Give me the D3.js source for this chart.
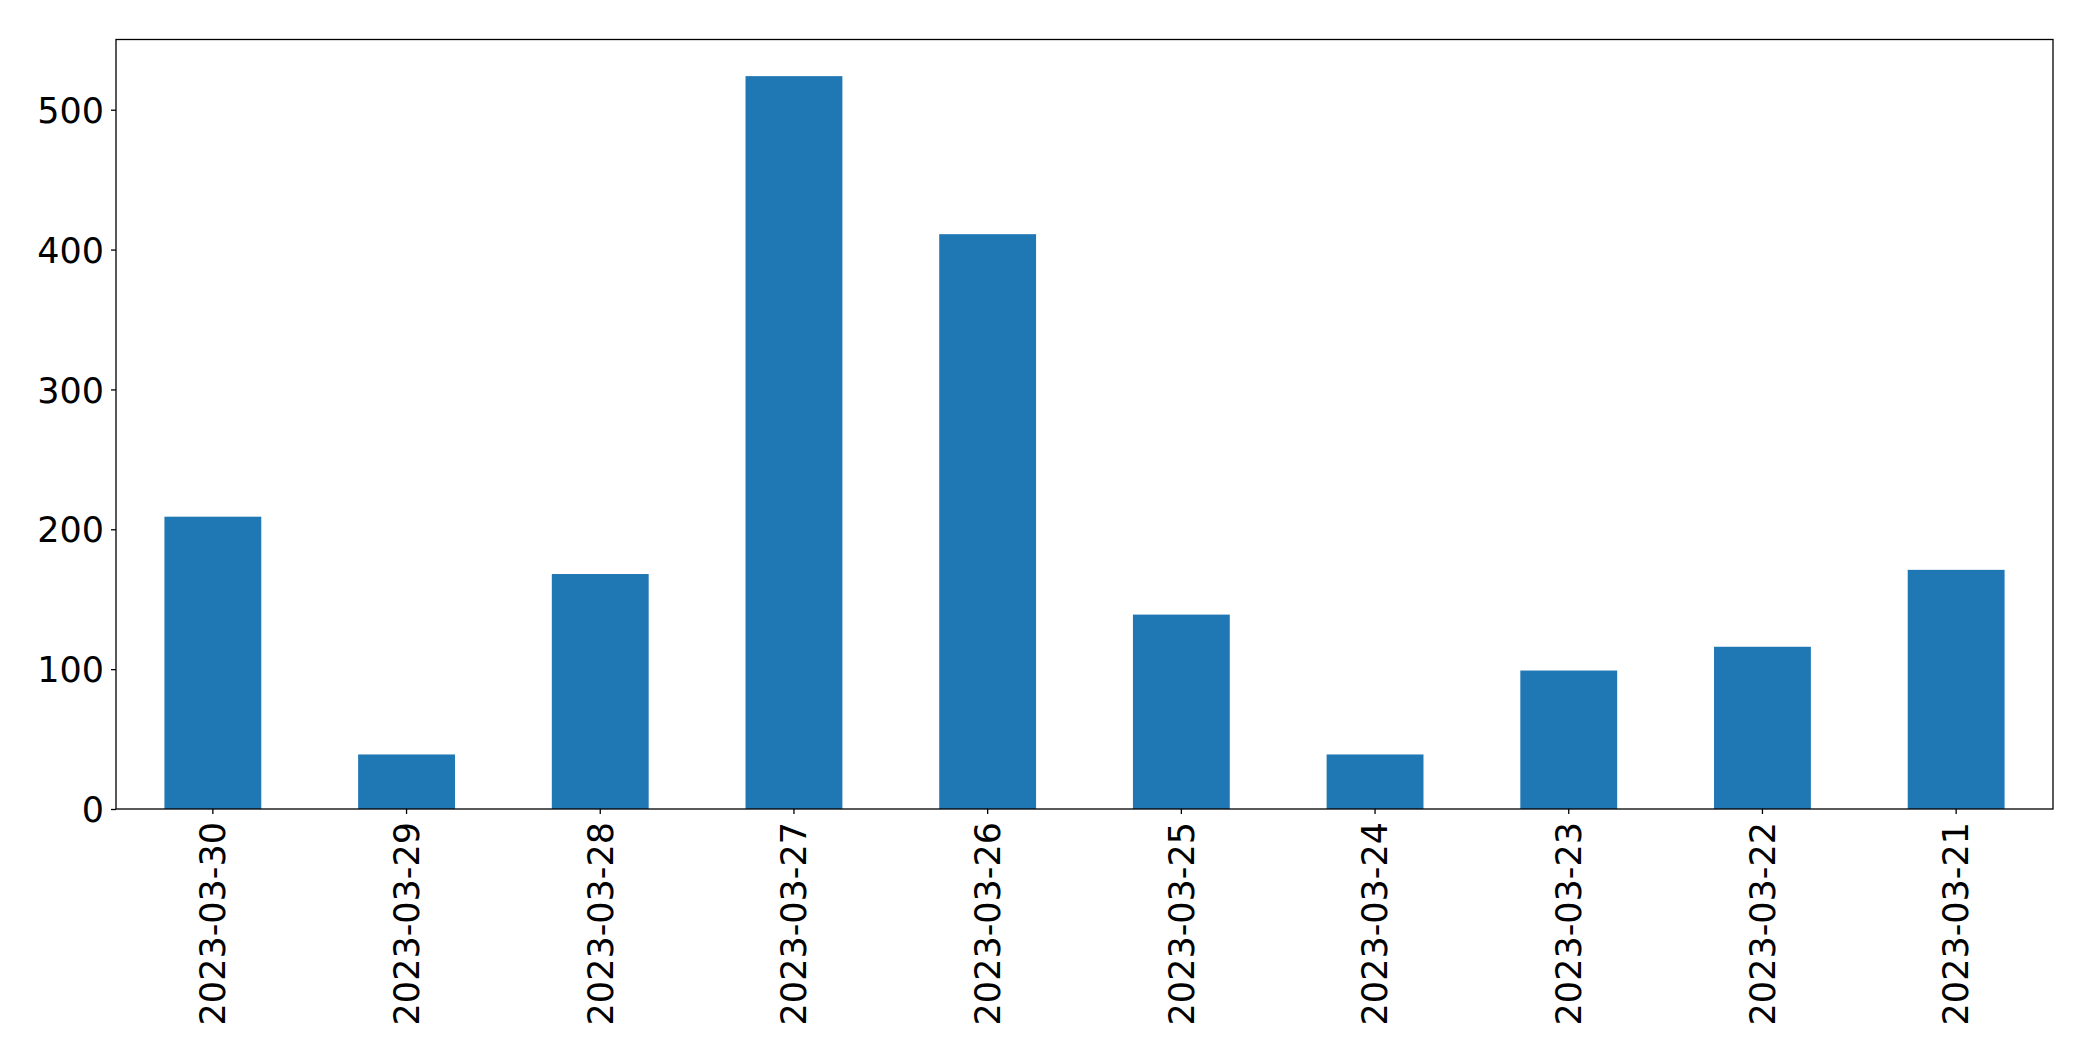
<!DOCTYPE html>
<html>
<head>
<meta charset="utf-8">
<script src="https://cdn.jsdelivr.net/npm/d3@7"></script>
<style>
 body { margin: 0; background: #fff; }
 .axis text { font-family: "DejaVu Sans", sans-serif; font-size: 35px; fill: #000; }
 .axis path, .axis line { stroke: #000; stroke-width: 1.3px; }
</style>
</head>
<body>
<div id="chart"></div>
<script>
// data
var dates = ["2023-03-30", "2023-03-29", "2023-03-28", "2023-03-27", "2023-03-26",
  "2023-03-25", "2023-03-24", "2023-03-23", "2023-03-22", "2023-03-21"];
var counts = [209, 39, 168, 524, 411, 139, 39, 99, 116, 171];
var yTicks = [0, 100, 200, 300, 400, 500];

// set the dimensions and margins of the graph
var W = 2093, H = 1061;
var margin = { top: 39.5, right: 40, bottom: 252, left: 116 },
  width = W - margin.left - margin.right,
  height = H - margin.top - margin.bottom;

var data = dates.map(function (d, i) { return { date: d, value: counts[i] }; });

// set the ranges
var x = d3.scaleBand().domain(dates).range([0, width])
  .paddingInner(0.5).paddingOuter(0.25);
var y = d3.scaleLinear()
  .domain([0, d3.max(counts) * 1.05])
  .range([height, 0]);

var svg = d3.select("#chart").append("svg")
  .attr("width", W)
  .attr("height", H)
  .append("g")
  .attr("transform", "translate(" + margin.left + "," + margin.top + ")");

// bars
svg.selectAll(".bar")
  .data(data)
  .enter().append("rect")
  .attr("class", "bar")
  .attr("x", function (d) { return x(d.date); })
  .attr("width", x.bandwidth())
  .attr("y", function (d) { return y(d.value); })
  .attr("height", function (d) { return height - y(d.value); })
  .attr("fill", "#1f77b4");

// frame
svg.append("rect")
  .attr("width", width)
  .attr("height", height)
  .attr("fill", "none")
  .attr("stroke", "#000")
  .attr("stroke-width", 1.3);

// x axis
var gx = svg.append("g")
  .attr("class", "axis")
  .attr("transform", "translate(0," + height + ")")
  .call(d3.axisBottom(x).tickSize(5).tickSizeOuter(0));
gx.select(".domain").remove();
gx.selectAll("text")
  .attr("transform", "rotate(-90)")
  .attr("x", -13)
  .attr("y", 0)
  .attr("dy", "0.35em")
  .style("text-anchor", "end");

// y axis
var gy = svg.append("g")
  .attr("class", "axis")
  .call(d3.axisLeft(y).tickValues(yTicks).tickSize(5).tickPadding(7));
gy.select(".domain").remove();
gy.selectAll("text").attr("dy", "0.36em");
</script>
</body>
</html>
